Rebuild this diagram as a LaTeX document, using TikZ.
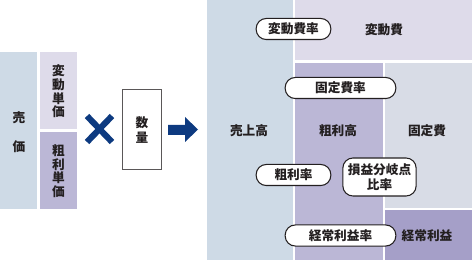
\documentclass[tikz,border=0pt]{standalone}
\usepackage{fontspec}
\newfontfamily\jp{Noto Sans CJK JP}
\definecolor{uriage}{RGB}{206,218,230}
\definecolor{hendo}{RGB}{222,219,234}
\definecolor{arari}{RGB}{187,183,214}
\definecolor{kotei}{RGB}{216,220,230}
\definecolor{keijo}{RGB}{165,159,200}
\definecolor{navy}{RGB}{13,58,128}
\definecolor{ink}{RGB}{35,31,32}
\tikzset{
  label/.style={font=\jp\bfseries\fontsize{9.5}{10.2}\selectfont,text=ink,inner sep=0pt,align=center},
  pill/.style={label,draw=ink,line width=0.8pt,fill=white,rounded corners=7.6pt,minimum height=15.8pt},
}
\begin{document}
\begin{tikzpicture}[x=0.75pt,y=-0.75pt]
  \useasboundingbox (0,0) rectangle (472,260);
  % unit price
  \fill[uriage] (0,52) rectangle (37,209);
  \fill[hendo] (40,52) rectangle (77,129);
  \fill[arari] (40,132) rectangle (77,209);
  \node[label] (baika) at (19,132) {売\\[11.5pt]価};
  \node[label] (hendotanka) at (58.5,91.5) {変\\動\\単\\価};
  \node[label] (araritanka) at (58.5,171) {粗\\利\\単\\価};
  % times
  \draw[navy,line width=4.6pt] (87,116) -- (112,142);
  \draw[navy,line width=4.6pt] (112,116) -- (87,142);
  \node[label,draw=ink!75,line width=0.9pt,minimum width=29.5pt,minimum height=60.5pt] (suryo) at (142,129.5) {};
  \node[label] (suryotext) at (142,130) {数\\[1.4pt]量};
  % arrow
  \fill[navy] (168,125) -- (185,125) -- (185,117) -- (198,129.5) -- (185,142) -- (185,135) -- (168,135) -- cycle;
  % sales breakdown
  \fill[uriage] (207,0) rectangle (293,260);
  \fill[hendo] (295,0) rectangle (472,60);
  \fill[arari] (295,63) rectangle (383,260);
  \fill[kotei] (385,63) rectangle (472,208);
  \fill[keijo] (385,210) rectangle (472,260);
  \node[label] (uriagedaka) at (249,131) {売上高};
  \node[label] (araridaka) at (338,131) {粗利高};
  \node[label] (koteihi) at (427,131) {固定費};
  \node[label] (hendohi) at (384,30) {変動費};
  \node[label] (keijorieki) at (427,236) {経常利益};
  % ratios
  \node[pill,minimum width=56pt] (hendohiritsu) at (293.5,29) {変動費率};
  \node[pill,minimum width=83pt] (koteihiritsu) at (340.5,88) {固定費率};
  \node[pill,minimum width=56pt] (arariritsu) at (293.5,175) {粗利率};
  \node[pill,minimum width=55pt,minimum height=28.5pt] (sonekiritsu) at (379.5,177) {損益分岐点\\[0.8pt]比率};
  \node[pill,minimum width=83pt] (keijoriekiritsu) at (340.5,235.5) {経常利益率};
\end{tikzpicture}
\end{document}
